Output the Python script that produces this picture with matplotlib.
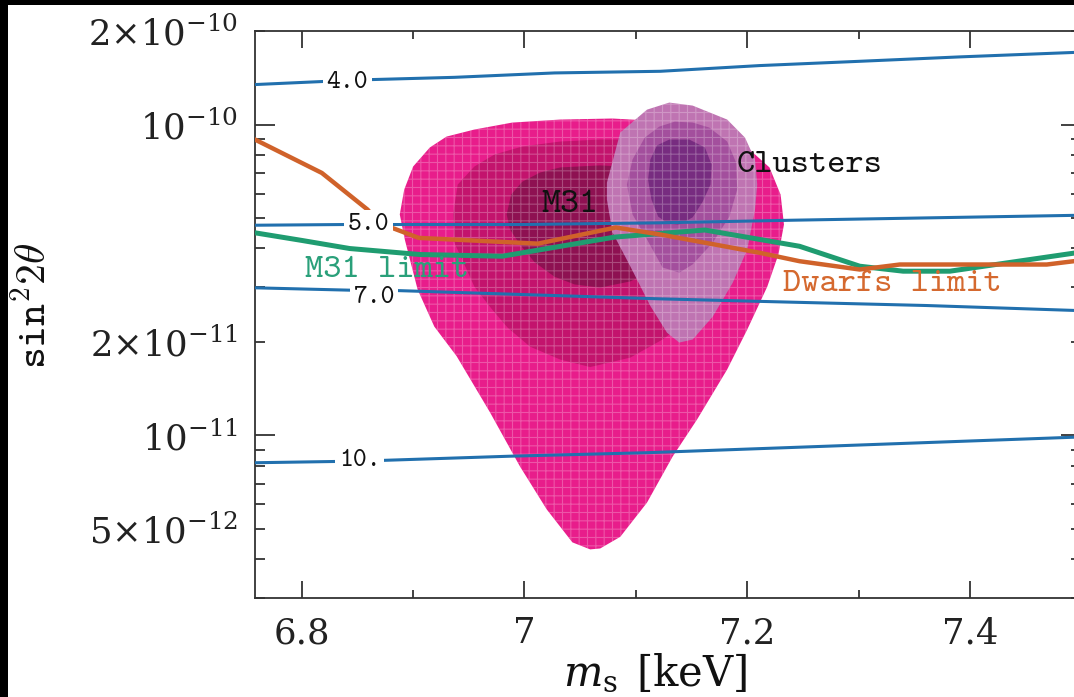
import os
import matplotlib
matplotlib.use("Agg")
import matplotlib.pyplot as plt
from matplotlib.font_manager import FontProperties
from matplotlib.patches import Rectangle

# ---------------- data ----------------
# iso-lines (labelled 4.0, 5.0, 7.0, 10.)
iso4_m = [6.758, 6.821, 6.861, 6.937, 7.027, 7.122, 7.211, 7.301, 7.391, 7.500]
iso4_s = [1.345e-10, 1.377e-10, 1.395e-10, 1.419e-10, 1.466e-10, 1.484e-10,
          1.548e-10, 1.598e-10, 1.651e-10, 1.710e-10]
iso5_m = [6.758, 6.839, 6.882, 6.998, 7.121, 7.241, 7.361, 7.500]
iso5_s = [4.745e-11, 4.77e-11, 4.77e-11, 4.77e-11, 4.83e-11, 4.925e-11, 5.01e-11, 5.11e-11]
iso7_m = [6.758, 6.845, 6.885, 6.998, 7.121, 7.241, 7.361, 7.500]
iso7_s = [2.985e-11, 2.932e-11, 2.925e-11, 2.84e-11, 2.751e-11, 2.683e-11, 2.618e-11, 2.52e-11]
iso10_m = [6.758, 6.833, 6.871, 6.989, 7.110, 7.248, 7.500]
iso10_s = [8.17e-12, 8.25e-12, 8.31e-12, 8.58e-12, 8.80e-12, 9.17e-12, 9.89e-12]

iso_labels = ["4.0", "5.0", "7.0", "10."]
iso_label_m = [6.841, 6.860, 6.865, 6.852]
iso_label_s = [1.368e-10, 4.77e-11, 2.78e-11, 8.31e-12]

# upper limits
dwarfs_m = [6.758, 6.818, 6.859, 6.863, 6.881, 6.905, 7.012, 7.082, 7.122, 7.211,
            7.247, 7.301, 7.337, 7.469, 7.500]
dwarfs_s = [8.95e-11, 6.99e-11, 5.33e-11, 5.135e-11, 4.655e-11, 4.32e-11, 4.14e-11,
            4.665e-11, 4.43e-11, 3.87e-11, 3.635e-11, 3.418e-11, 3.547e-11, 3.547e-11, 3.66e-11]
m31lim_m = [6.758, 6.800, 6.843, 6.906, 6.980, 7.081, 7.162, 7.247, 7.301, 7.340, 7.382, 7.500]
m31lim_s = [4.486e-11, 4.24e-11, 3.993e-11, 3.82e-11, 3.772e-11, 4.346e-11, 4.58e-11,
            4.06e-11, 3.503e-11, 3.376e-11, 3.376e-11, 3.89e-11]

# M31 allowed regions (outer, middle, inner)
m31_out_m = [6.888, 6.892, 6.900, 6.915, 6.930, 6.955, 6.989, 7.032, 7.079, 7.130, 7.171,
             7.200, 7.220, 7.230, 7.233, 7.228, 7.218, 7.200, 7.182, 7.155, 7.133, 7.110,
             7.086, 7.068, 7.059, 7.043, 7.020, 6.996, 6.969, 6.939, 6.919, 6.904, 6.8925]
m31_out_s = [5.14e-11, 6.18e-11, 7.33e-11, 8.44e-11, 9.15e-11, 9.64e-11, 1.015e-10,
             1.038e-10, 1.046e-10, 1.022e-10, 9.50e-11, 8.44e-11, 7.28e-11, 5.95e-11,
             4.77e-11, 3.82e-11, 3.01e-11, 2.19e-11, 1.63e-11, 1.126e-11, 8.55e-12,
             6.08e-12, 4.72e-12, 4.33e-12, 4.30e-12, 4.53e-12, 5.78e-12, 7.94e-12,
             1.187e-11, 1.80e-11, 2.24e-11, 2.95e-11, 4.27e-11]
m31_mid_m = [6.936, 6.940, 6.955, 6.973, 6.998, 7.032, 7.068, 7.104, 7.139, 7.166, 7.180,
             7.182, 7.171, 7.148, 7.124, 7.095, 7.059, 7.032, 7.005, 6.985, 6.971, 6.955,
             6.946, 6.937]
m31_mid_s = [5.14e-11, 6.41e-11, 7.33e-11, 8.01e-11, 8.50e-11, 8.82e-11, 8.95e-11, 8.95e-11,
             8.63e-11, 7.72e-11, 6.18e-11, 4.60e-11, 3.17e-11, 2.36e-11, 2.035e-11,
             1.78e-11, 1.66e-11, 1.755e-11, 1.93e-11, 2.22e-11, 2.54e-11, 3.01e-11,
             3.55e-11, 4.17e-11]
m31_in_m = [6.984, 6.988, 6.998, 7.014, 7.032, 7.068, 7.104, 7.130, 7.139, 7.135, 7.117,
            7.095, 7.068, 7.045, 7.027, 7.009, 6.996, 6.987]
m31_in_s = [5.14e-11, 5.95e-11, 6.55e-11, 7.01e-11, 7.28e-11, 7.39e-11, 7.28e-11, 6.65e-11,
            5.33e-11, 4.11e-11, 3.42e-11, 3.13e-11, 2.99e-11, 3.06e-11, 3.24e-11, 3.61e-11,
            4.11e-11, 4.60e-11]

# Clusters allowed regions (outer, middle, inner)
cl_out_m = [7.074, 7.074, 7.086, 7.110, 7.130, 7.151, 7.182, 7.198, 7.207, 7.209, 7.207,
            7.200, 7.187, 7.169, 7.151, 7.139, 7.128, 7.113, 7.095, 7.079]
cl_out_s = [5.74e-11, 6.50e-11, 9.43e-11, 1.117e-10, 1.177e-10, 1.151e-10, 1.038e-10,
            9.08e-11, 7.72e-11, 6.41e-11, 5.33e-11, 3.96e-11, 3.10e-11, 2.41e-11,
            2.035e-11, 1.99e-11, 2.14e-11, 2.61e-11, 3.50e-11, 4.50e-11]
cl_mid_m = [7.092, 7.097, 7.108, 7.121, 7.135, 7.151, 7.166, 7.182, 7.190, 7.191, 7.184,
            7.169, 7.151, 7.139, 7.124, 7.110, 7.097]
cl_mid_s = [6.41e-11, 7.72e-11, 9.08e-11, 9.85e-11, 1.022e-10, 1.015e-10, 9.78e-11,
            8.82e-11, 7.55e-11, 6.18e-11, 5.06e-11, 4.17e-11, 3.55e-11, 3.34e-11,
            3.47e-11, 4.27e-11, 5.14e-11]
cl_in_m = [7.111, 7.113, 7.119, 7.130, 7.148, 7.162, 7.168, 7.167, 7.160, 7.151, 7.139,
           7.129, 7.120, 7.114]
cl_in_s = [6.65e-11, 7.72e-11, 8.57e-11, 8.95e-11, 8.95e-11, 8.44e-11, 7.44e-11, 6.41e-11,
           5.65e-11, 5.03e-11, 4.77e-11, 4.80e-11, 5.06e-11, 5.74e-11]

x_major = [6.8, 7.0, 7.2, 7.4]
x_major_labels = ["6.8", "7", "7.2", "7.4"]
x_minor = [6.9, 7.1, 7.3]
y_major = [1e-11, 1e-10]
y_major_labels = [r"$10^{-11}$", r"$10^{-10}$"]
y_labelled_minor = {2e-10: r"$2{\times}10^{-10}$", 5e-11: r"$5{\times}10^{-11}$",
                    2e-11: r"$2{\times}10^{-11}$", 5e-12: r"$5{\times}10^{-12}$"}

# ---------------- style ----------------
plt.rcParams["font.family"] = ["DejaVu Serif"]
plt.rcParams["mathtext.fontset"] = "dejavuserif"
plt.rcParams["hatch.linewidth"] = 0.8
TTF = os.path.join(matplotlib.get_data_path(), "fonts", "ttf", "cmtt10.ttf")


def tt(size):
    return FontProperties(fname=TTF, size=size)


BLUE = "#2170ae"
ORANGE = "#d0622a"
GREEN = "#1f9c70"
GRID = (1, 1, 1, 0.25)

fig = plt.figure(figsize=(10.74, 6.97), dpi=100)
ax = fig.add_axes([255 / 1074, 99 / 697, 826.3 / 1074, 567 / 697])
ax.set_yscale("log")
ax.set_xlim(6.758, 7.5)
ax.set_ylim(3.0e-12, 2e-10)

# allowed regions
for m, s, c, z in [(m31_out_m, m31_out_s, "#e81d8b", 1.0),
                   (m31_mid_m, m31_mid_s, "#c3136d", 1.1),
                   (m31_in_m, m31_in_s, "#8e1152", 1.2),
                   (cl_out_m, cl_out_s, "#bf74b2", 1.3),
                   (cl_mid_m, cl_mid_s, "#a34f9d", 1.4),
                   (cl_in_m, cl_in_s, "#772c80", 1.5)]:
    ax.fill(m, s, facecolor=c, edgecolor=GRID, linewidth=0, hatch="++", zorder=z)

# iso-lines
for m, s in [(iso4_m, iso4_s), (iso5_m, iso5_s), (iso7_m, iso7_s), (iso10_m, iso10_s)]:
    ax.plot(m, s, color=BLUE, lw=2.2, zorder=3)

# limits
ax.plot(m31lim_m, m31lim_s, color=GREEN, lw=3.6, zorder=4)
ax.plot(dwarfs_m, dwarfs_s, color=ORANGE, lw=3.2, zorder=4)

for lab, m, s in zip(iso_labels, iso_label_m, iso_label_s):
    ax.text(m, s, lab, fontproperties=tt(19), ha="center", va="center", color="#111111",
            zorder=6, bbox=dict(facecolor="white", edgecolor="none", pad=2.5))

ax.text(7.041, 5.5e-11, "M31", fontproperties=tt(26), ha="center", va="center",
        color="#111111", zorder=6)
ax.text(7.256, 7.4e-11, "Clusters", fontproperties=tt(25), ha="center", va="center",
        color="#111111", zorder=6)
ax.text(6.877, 3.40e-11, "M31 limit", fontproperties=tt(25), ha="center", va="center",
        color="#2aa07a", zorder=6)
ax.text(7.330, 3.06e-11, "Dwarfs limit", fontproperties=tt(25), ha="center", va="center",
        color="#d5692f", zorder=6)

# ticks
ax.set_xticks(x_major, labels=x_major_labels)
ax.set_xticks(x_minor, minor=True)
ax.set_yticks(y_major, labels=y_major_labels)
minor_y = [k * 10.0 ** e for e in (-12, -11) for k in range(2, 10)] + [2e-10]
minor_y = [v for v in minor_y if v >= 3.0e-12]
ax.set_yticks(minor_y, labels=[y_labelled_minor.get(v, "") for v in minor_y], minor=True)

ax.tick_params(which="both", direction="in", top=True, right=True, color="#333333",
               width=1.3, labelsize=25.5, labelcolor="#222222")
ax.tick_params(axis="x", which="major", length=12.5, pad=13)
ax.tick_params(axis="x", which="minor", length=6)
ax.tick_params(axis="y", which="major", length=14.5, pad=12)
ax.tick_params(axis="y", which="minor", length=7.2, pad=12)
for sp in ax.spines.values():
    sp.set_color("#333333")
    sp.set_linewidth(1.3)

fig.text(35 / 1074, 1 - 306 / 697, r"$\mathtt{sin}^{2}2\theta$", rotation=90, fontsize=30,
         ha="center", va="center", math_fontfamily="cm", color="#111111")
fig.text(655 / 1074, 1 - 673 / 697, r"$m_{\rm s}\;\,\mathrm{[keV]}$", fontsize=30,
         ha="center", va="center", math_fontfamily="dejavuserif", color="#111111")

# frame bands
fig.patches.append(Rectangle((0, 1 - 5 / 697), 1, 5 / 697, transform=fig.transFigure,
                             facecolor="black", edgecolor="none", zorder=20))
fig.patches.append(Rectangle((0, 0), 8 / 1074, 1, transform=fig.transFigure,
                             facecolor="black", edgecolor="none", zorder=20))

fig.savefig("out.png", dpi=100)
